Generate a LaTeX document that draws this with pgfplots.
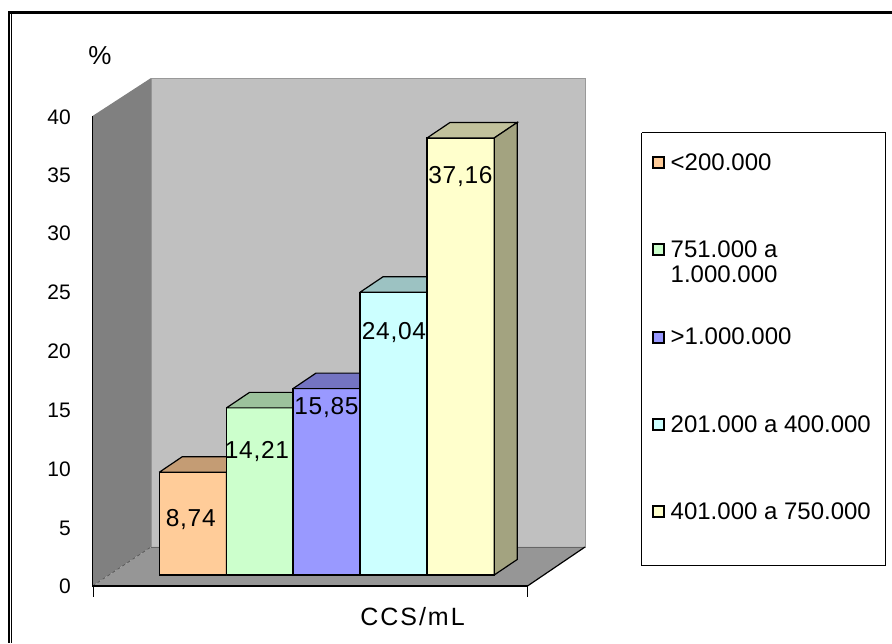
\documentclass[border=0pt]{standalone}
\usepackage{pgfplots}
\pgfplotsset{compat=1.18}
\usepackage{fontspec}
\setmainfont{Liberation Sans}

\definecolor{wallback}{HTML}{C0C0C0}
\definecolor{wallleft}{HTML}{808080}
\definecolor{wallfloor}{HTML}{969696}
\definecolor{orangeF}{HTML}{FFCC99}\definecolor{orangeT}{HTML}{C49C74}\definecolor{orangeS}{HTML}{A3825F}
\definecolor{greenF}{HTML}{CCFFCC}\definecolor{greenT}{HTML}{9CC29C}\definecolor{greenS}{HTML}{82A382}
\definecolor{blueF}{HTML}{9999FF}\definecolor{blueT}{HTML}{7474C2}\definecolor{blueS}{HTML}{6060A3}
\definecolor{cyanF}{HTML}{CCFFFF}\definecolor{cyanT}{HTML}{9CC2C2}\definecolor{cyanS}{HTML}{82A3A3}
\definecolor{yellowF}{HTML}{FFFFCC}\definecolor{yellowT}{HTML}{C2C29C}\definecolor{yellowS}{HTML}{A3A380}

% One prism: left edge, value, three face colours, legend text.
% The 67.2-wide front face stands on zero; the depth vector is 23 across and 1.318 up.
\newcommand{\prism}[6]{%
  \pgfmathsetmacro{\xa}{#1}\pgfmathsetmacro{\xb}{#1+67.2}%
  \pgfmathsetmacro{\xc}{#1+90.2}\pgfmathsetmacro{\xd}{#1+23}%
  \pgfmathsetmacro{\yt}{#2+1.318}%
  \addplot[draw=black,line width=1.2pt,fill=#3] coordinates {(\xa,0) (\xa,#2) (\xb,#2) (\xb,0) (\xa,0)};
  \addlegendentry{#6}
  \addplot[forget plot,draw=black,line width=1.2pt,fill=#4] coordinates {(\xa,#2) (\xd,\yt) (\xc,\yt) (\xb,#2) (\xa,#2)};
  \addplot[forget plot,draw=black,line width=1.2pt,fill=#5] coordinates {(\xb,0) (\xb,#2) (\xc,\yt) (\xc,1.318) (\xb,0)};
}
\newcommand{\tl}[2]{\node[anchor=base east,inner sep=0pt,font=\fontsize{21}{24}\selectfont] at (axis cs:71,{(575-#1)/11.76}) {#2};}
\newcommand{\vl}[3]{\node[anchor=base,font=\fontsize{24.5}{28}\selectfont\addfontfeature{LetterSpace=3}] at (axis cs:#1,{(575-#2)/11.76}) {#3};}

\begin{document}
\begin{tikzpicture}
% the page is the whole plotting area, white margins included
\path[use as bounding box] (0,0) rectangle (892pt,643pt);
\begin{axis}[
  at={(0,0)},anchor=south west,
  width=892pt,height=643pt,scale only axis,
  xmin=0,xmax=892,ymin=-5.7823,ymax=48.895,
  axis lines=none,
  no markers,
  line join=miter,
  legend cell align=left,
  legend image code/.code={\draw[#1,line width=2pt] (0pt,-5.5pt) rectangle (11pt,5.5pt);},
  legend style={
    at={(axis cs:652,35.85)},anchor=north west,
    draw=none,fill=none,inner sep=0pt,
    font=\fontsize{24}{28}\selectfont,
    row sep=69pt,
    nodes={inner sep=0pt},
    /tikz/every odd column/.append style={column sep=5.5pt},
  },
]
% room of the chart: back wall, side wall, floor
\addplot[forget plot,draw=black!40,line width=0.8pt,fill=wallback] coordinates {(151,2.381) (585,2.381) (585,42.26) (151,42.26) (151,2.381)};
\addplot[forget plot,draw=none,fill=wallleft] coordinates {(92.5,-0.935) (151,2.381) (151,42.26) (92.5,39.03) (92.5,-0.935)};
\addplot[forget plot,draw=none,fill=wallfloor] coordinates {(92.5,-0.935) (151,2.381) (585,2.381) (527.5,-0.935) (92.5,-0.935)};
\addplot[forget plot,draw=black!60,line width=0.8pt] coordinates {(151,2.381) (585,2.381)};
\addplot[forget plot,draw=black!65,line width=0.8pt,dashed] coordinates {(92.5,-0.935) (151,2.381)};
\addplot[forget plot,draw=black,line width=1.2pt] coordinates {(527.5,-0.935) (585,2.381)};

% legend box
\addplot[forget plot,draw=black,line width=0.9pt] coordinates {(641.5,37.6) (885.5,37.6) (885.5,0.85) (641.5,0.85) (641.5,37.6)};

% outer frame
\addplot[forget plot,draw=black,line width=3pt] coordinates {(8,47.83) (892,47.83)};
\addplot[forget plot,draw=black,line width=2pt] coordinates {(9,47.9) (9,-5.7823)};
\addplot[forget plot,draw=black,line width=1pt] coordinates {(11.5,47.9) (11.5,-5.7823)};

% the five categories
\prism{159.3}{8.74}{orangeF}{orangeT}{orangeS}{<200.000}
\prism{226.5}{14.21}{greenF}{greenT}{greenS}{\smash{\rlap{\raisebox{-25pt}{1.000.000}}}751.000 a}
\prism{293}{15.85}{blueF}{blueT}{blueS}{>1.000.000}
\prism{360}{24.04}{cyanF}{cyanT}{cyanS}{201.000 a 400.000}
\prism{427}{37.16}{yellowF}{yellowT}{yellowS}{401.000 a 750.000}

% axis lines drawn over the floor
\addplot[forget plot,draw=black,line width=2pt] coordinates {(92,-0.935) (527.5,-0.935)};
\addplot[forget plot,draw=black,line width=1pt] coordinates {(92.8,-0.935) (92.8,39.03)};
\addplot[forget plot,draw=black,line width=0.8pt] coordinates {(93,-0.935) (93,-1.87)};
\addplot[forget plot,draw=black,line width=0.8pt] coordinates {(527.5,-0.935) (527.5,-1.87)};

% axis numbers
\tl{124.5}{40}\tl{182.5}{35}\tl{240.5}{30}\tl{299.5}{25}\tl{358.5}{20}\tl{417.5}{15}\tl{476.5}{10}\tl{535.5}{5}\tl{593.5}{0}
% values on the bars
\vl{190.7}{526.5}{8,74}
\vl{257}{458.5}{14,21}
\vl{326.5}{414.5}{15,85}
\vl{394}{339.5}{24,04}
\vl{460.5}{184}{37,16}
% axis titles
\node[anchor=base,font=\fontsize{26}{28}\selectfont] at (axis cs:100,{(575-65)/11.76}) {\%};
\node[anchor=base,font=\fontsize{25}{28}\selectfont\addfontfeature{LetterSpace=8}] at (axis cs:412.5,{(575-626)/11.76}) {CCS/mL};
\end{axis}
\end{tikzpicture}
\end{document}
